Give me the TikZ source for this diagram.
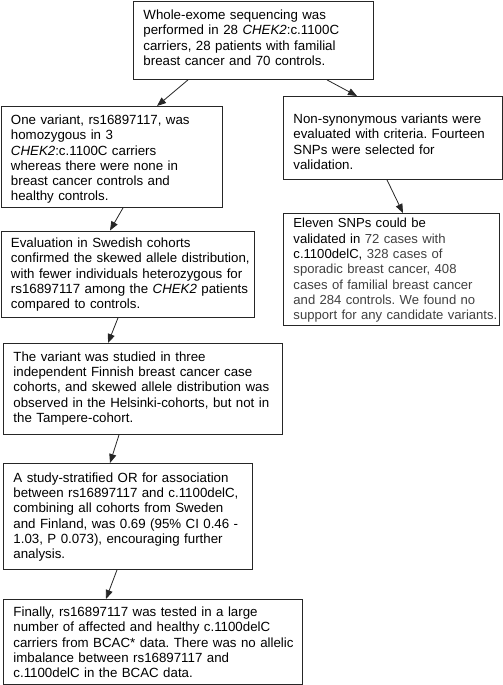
\documentclass[tikz,border=0pt]{standalone}
\usepackage{fontspec}
\setmainfont{Liberation Sans}
\usetikzlibrary{arrows.meta,calc}
\definecolor{txtgray}{HTML}{404040}
\tikzset{
  stepbox/.style={draw=black!85, line width=0.9pt, anchor=north west,
    inner xsep=10pt, inner ysep=0pt, align=left,
    font={\fontsize{13.3}{15.3}\selectfont\frenchspacing}},
  flowarrow/.style={draw=black!85, line width=0.8pt,
    -{Triangle[length=9pt,width=7pt]}}
}
\begin{document}
\begin{tikzpicture}[x=1pt,y=-1pt]
\useasboundingbox (0,0) rectangle (503,685);

\node[stepbox, text width=220pt, text height=18pt, text depth=60pt] (b1) at (133,1)
{\mbox{Whole-exome sequencing was}\\
\mbox{performed in 28 \textit{CHEK2}:c.1100C}\\
\mbox{carriers, 28 patients with familial}\\
\mbox{breast cancer and 70 controls.}};

\node[stepbox, text width=201pt, text height=18pt, text depth=83pt] (b2) at (0.5,106)
{\mbox{One variant, rs16897117, was}\\
\mbox{homozygous in 3}\\
\mbox{\textit{CHEK2}:c.1100C carriers}\\
\mbox{whereas there were none in}\\
\mbox{breast cancer controls and}\\
\mbox{healthy controls.}};

\node[stepbox, text width=199pt, text height=27pt, text depth=56pt] (b3) at (283,96)
{\mbox{Non-synonymous variants were}\\
\mbox{evaluated with criteria. Fourteen}\\
\mbox{SNPs were selected for}\\
\mbox{validation.}};

\node[stepbox, font={\fontsize{13.1}{15.3}\selectfont\frenchspacing},
  text width=196pt, text height=14.5pt, text depth=97.5pt] (b4) at (283,213)
{\mbox{Eleven SNPs could be}\\
\mbox{validated in \textcolor{txtgray}{72 cases with}}\\
\mbox{c.1100delC, \textcolor{txtgray}{328 cases of}}\\
\mbox{\textcolor{txtgray}{sporadic breast cancer, 408}}\\
\mbox{\textcolor{txtgray}{cases of familial breast cancer}}\\
\mbox{\textcolor{txtgray}{and 284 controls. We found no}}\\
\mbox{\textcolor{txtgray}{support for any candidate variants.}}};

\node[stepbox, text width=233pt, text height=16.5pt, text depth=70pt] (b5) at (0.5,230.5)
{\mbox{Evaluation in Swedish cohorts}\\
\mbox{confirmed the skewed allele distribution,}\\
\mbox{with fewer individuals heterozygous for}\\
\mbox{rs16897117 among the \textit{CHEK2} patients}\\
\mbox{compared to controls.}};

\node[stepbox, text width=259pt, text height=17.7pt, text depth=73.3pt] (b6) at (3,343)
{\mbox{The variant was studied in three}\\
\mbox{independent Finnish breast cancer case}\\
\mbox{cohorts, and skewed allele distribution was}\\
\mbox{observed in the Helsinki-cohorts, but not in}\\
\mbox{the Tampere-cohort.}};

\node[stepbox, text width=229pt, text height=18.7pt, text depth=87.3pt] (b7) at (3,463)
{\mbox{A study-stratified OR for association}\\
\mbox{between rs16897117 and c.1100delC,}\\
\mbox{combining all cohorts from Sweden}\\
\mbox{and Finland, was 0.69 (95\% CI 0.46 -}\\
\mbox{1.03, P 0.073), encouraging further}\\
\mbox{analysis.}};

\node[stepbox, text width=279pt, text height=17pt, text depth=68pt] (b8) at (3,599)
{\mbox{Finally, rs16897117 was tested in a large}\\
\mbox{number of affected and healthy c.1100delC}\\
\mbox{carriers from BCAC* data. There was no allelic}\\
\mbox{imbalance between rs16897117 and}\\
\mbox{c.1100delC in the BCAC data.}};

\draw[flowarrow] ($(b1.south west)+(55,0)$) -- ($(b2.north west)+(156.5,0)$);
\draw[flowarrow] ($(b1.south west)+(194,0)$) -- ($(b3.north west)+(74,0)$);
\draw[flowarrow] ($(b3.south west)+(104,0)$) -- ($(b4.north west)+(120,0)$);
\draw[flowarrow] ($(b2.south west)+(122.5,0)$) -- ($(b5.north west)+(109.5,0)$);
\draw[flowarrow] ($(b5.south west)+(117.5,0)$) -- ($(b6.north west)+(105,0)$);
\draw[flowarrow] ($(b6.south west)+(116,0)$) -- ($(b7.north west)+(107,0)$);
\draw[flowarrow] ($(b7.south west)+(114,0)$) -- ($(b8.north west)+(103,0)$);
\end{tikzpicture}
\end{document}
